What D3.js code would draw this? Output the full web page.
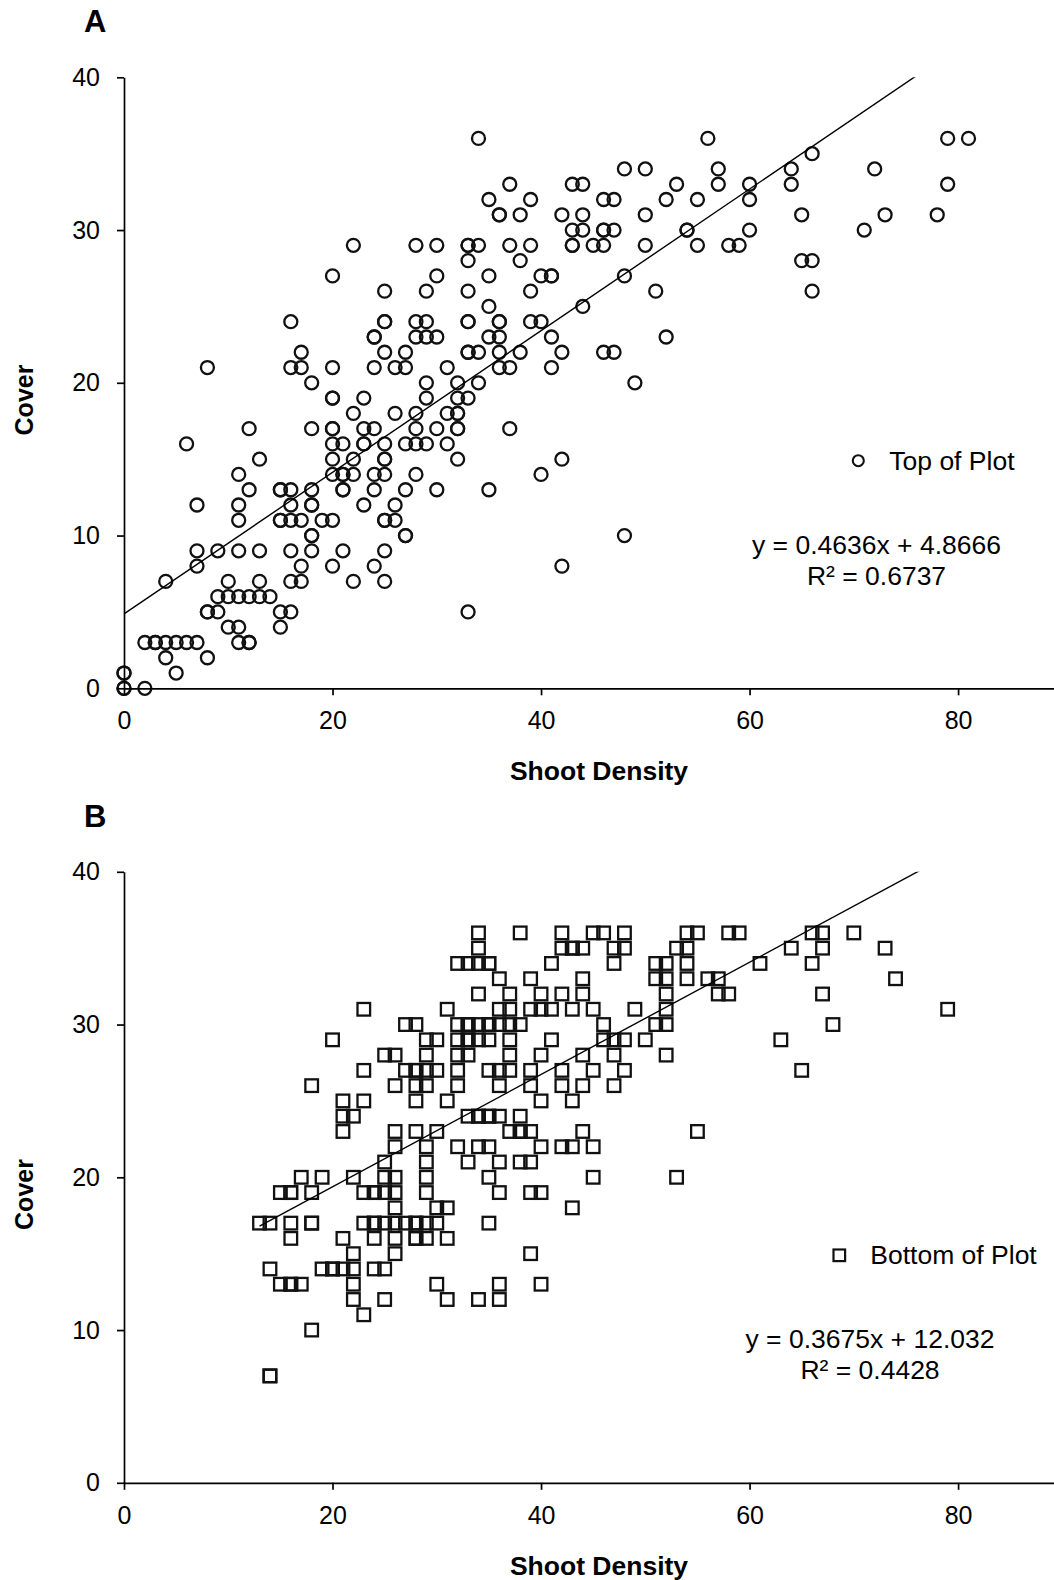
<!DOCTYPE html>
<html><head><meta charset="utf-8">
<script src="https://cdn.jsdelivr.net/npm/d3@7"></script>
<style>
body{margin:0;background:#fff}
text{font-family:"Liberation Sans",Arial,Helvetica,sans-serif;fill:#000}
</style>
</head><body>
<svg id="chart" width="1054" height="1580" xmlns="http://www.w3.org/2000/svg"></svg>
<script>
// ---------- data ----------
const xTicks = [0, 20, 40, 60, 80];
const yTicks = [0, 10, 20, 30, 40];
const panelLetters = ["A", "B"];
const seriesNames = ["Top of Plot", "Bottom of Plot"];
const xTitle = "Shoot Density";
const yTitle = "Cover";
const fitSlope = [0.4636, 0.3675];
const fitIntercept = [4.8666, 12.032];
const fitR2 = ["0.6737", "0.4428"];

// Panel A: Top of Plot (shoot density, cover)
const topX = [
  34,56,79,81,
  66,
  48,50,57,64,72,
  37,43,44,53,57,60,64,79,
  35,39,46,47,52,55,60,
  36,36,38,42,44,50,65,73,78,
  43,44,46,46,47,54,54,60,71,
  22,28,30,33,33,34,37,39,43,43,45,46,50,55,58,59,
  33,38,65,66,
  20,30,35,40,41,41,48,
  25,29,33,39,51,66,
  35,44,
  16,25,25,28,29,33,33,36,36,39,40,
  24,24,28,29,30,35,36,41,52,
  17,25,27,33,33,34,36,38,42,46,47,
  8,16,17,20,24,26,27,31,36,37,41,
  18,29,32,34,49,
  20,20,23,29,32,33,
  22,26,28,31,32,32,
  12,18,20,20,23,24,28,30,32,32,37,
  6,20,21,23,23,25,27,28,29,31,
  13,20,22,25,25,32,42,
  11,20,21,21,22,24,25,28,40,
  12,15,15,16,18,21,21,24,27,30,35,
  7,11,16,18,18,23,26,
  11,15,15,16,17,19,20,25,25,26,
  18,18,27,27,48,
  7,9,11,13,16,18,21,25,
  7,17,20,24,42,
  4,10,13,16,17,22,25,
  9,10,11,12,13,14,
  8,8,9,15,16,33,
  10,11,15,
  2,3,3,4,5,6,7,11,12,12,
  4,8,
  0,0,5,
  0,0,2
];
const topY = [
  36,36,36,36,
  35,
  34,34,34,34,34,
  33,33,33,33,33,33,33,33,
  32,32,32,32,32,32,32,
  31,31,31,31,31,31,31,31,31,
  30,30,30,30,30,30,30,30,30,
  29,29,29,29,29,29,29,29,29,29,29,29,29,29,29,29,
  28,28,28,28,
  27,27,27,27,27,27,27,
  26,26,26,26,26,26,
  25,25,
  24,24,24,24,24,24,24,24,24,24,24,
  23,23,23,23,23,23,23,23,23,
  22,22,22,22,22,22,22,22,22,22,22,
  21,21,21,21,21,21,21,21,21,21,21,
  20,20,20,20,20,
  19,19,19,19,19,19,
  18,18,18,18,18,18,
  17,17,17,17,17,17,17,17,17,17,17,
  16,16,16,16,16,16,16,16,16,16,
  15,15,15,15,15,15,15,
  14,14,14,14,14,14,14,14,14,
  13,13,13,13,13,13,13,13,13,13,13,
  12,12,12,12,12,12,12,
  11,11,11,11,11,11,11,11,11,11,
  10,10,10,10,10,
  9,9,9,9,9,9,9,9,
  8,8,8,8,8,
  7,7,7,7,7,7,7,
  6,6,6,6,6,6,
  5,5,5,5,5,5,
  4,4,4,
  3,3,3,3,3,3,3,3,3,3,
  2,2,
  1,1,1,
  0,0,0
];

// Panel B: Bottom of Plot (shoot density, cover)
const bottomX = [
  34,38,42,45,46,48,54,55,58,59,66,67,70,
  34,42,43,43,44,47,48,53,54,64,67,73,
  32,33,34,35,35,41,47,51,52,54,61,66,
  36,39,44,51,52,54,56,57,74,
  34,37,40,42,44,52,57,58,67,
  23,31,36,37,39,40,41,43,45,49,52,79,
  27,28,32,33,33,34,35,35,36,37,38,46,51,52,68,
  20,29,30,32,33,33,34,35,37,41,46,47,48,50,63,
  25,26,29,32,33,37,40,44,47,52,
  23,27,28,28,29,30,32,35,36,37,39,42,45,48,65,
  18,26,28,29,32,36,39,42,44,47,
  21,23,28,31,40,43,
  21,22,33,34,34,35,35,36,38,
  21,26,28,30,37,38,38,39,44,55,
  26,29,32,34,35,40,42,43,45,
  25,29,33,36,38,39,
  17,19,22,25,26,29,35,45,53,
  15,16,16,18,23,24,24,25,26,29,36,39,40,
  26,30,31,43,
  13,14,16,18,18,23,24,24,25,26,27,28,28,29,30,35,
  16,21,24,26,28,28,29,31,
  22,26,39,
  14,19,20,20,21,22,24,25,
  15,16,16,17,22,30,36,40,
  22,25,31,34,36,
  23,
  18,
  14,14
];
const bottomY = [
  36,36,36,36,36,36,36,36,36,36,36,36,36,
  35,35,35,35,35,35,35,35,35,35,35,35,
  34,34,34,34,34,34,34,34,34,34,34,34,
  33,33,33,33,33,33,33,33,33,
  32,32,32,32,32,32,32,32,32,
  31,31,31,31,31,31,31,31,31,31,31,31,
  30,30,30,30,30,30,30,30,30,30,30,30,30,30,30,
  29,29,29,29,29,29,29,29,29,29,29,29,29,29,29,
  28,28,28,28,28,28,28,28,28,28,
  27,27,27,27,27,27,27,27,27,27,27,27,27,27,27,
  26,26,26,26,26,26,26,26,26,26,
  25,25,25,25,25,25,
  24,24,24,24,24,24,24,24,24,
  23,23,23,23,23,23,23,23,23,23,
  22,22,22,22,22,22,22,22,22,
  21,21,21,21,21,21,
  20,20,20,20,20,20,20,20,20,
  19,19,19,19,19,19,19,19,19,19,19,19,19,
  18,18,18,18,
  17,17,17,17,17,17,17,17,17,17,17,17,17,17,17,17,
  16,16,16,16,16,16,16,16,
  15,15,15,
  14,14,14,14,14,14,14,14,
  13,13,13,13,13,13,13,13,
  12,12,12,12,12,
  11,
  10,
  7,7
];

// ---------- drawing ----------
const svg = d3.select("#chart");
const W = 1054;
const panelShift = 794.5;
const plotLeft = 124, plotTop = 77.3, plotBottom = 688.3;

const seriesX = [topX, bottomX];
const seriesY = [topY, bottomY];

function drawPanel(i) {
  const off = i * panelShift;
  const g = svg.append("g");
  const x = d3.scaleLinear().domain([0, 89.2]).range([plotLeft, W]);
  const y = d3.scaleLinear().domain([0, 40]).range([plotBottom + off, plotTop + off]);

  const pts = seriesX[i].map((v, k) => ({x: v, y: seriesY[i][k]}));

  // clip for trend line
  const clipId = "clip" + i;
  svg.append("clipPath").attr("id", clipId).append("rect")
    .attr("x", x(0)).attr("y", y(40))
    .attr("width", x(89.2) - x(0)).attr("height", y(0) - y(40));

  // markers
  const mk = g.append("g").attr("fill", "none").attr("stroke", "#111").attr("stroke-width", 2.3);
  if (i === 0) {
    mk.selectAll("circle").data(pts).join("circle")
      .attr("cx", d => x(d.x)).attr("cy", d => y(d.y)).attr("r", 6.5);
  } else {
    const s = 12.6;
    mk.selectAll("rect").data(pts).join("rect")
      .attr("x", d => x(d.x) - s / 2).attr("y", d => y(d.y) - s / 2)
      .attr("width", s).attr("height", s);
  }

  // trend line
  const xmin = d3.min(seriesX[i]), xmax = d3.max(seriesX[i]);
  const f = v => fitSlope[i] * v + fitIntercept[i];
  g.append("line")
    .attr("clip-path", `url(#${clipId})`)
    .attr("x1", x(xmin)).attr("y1", y(f(xmin)))
    .attr("x2", x(xmax)).attr("y2", y(f(xmax)))
    .attr("stroke", "#000").attr("stroke-width", 1.4);

  // axes
  const xa = g.append("g").attr("transform", `translate(0,${y(0)})`)
    .call(d3.axisBottom(x).tickValues(xTicks).tickSize(7).tickSizeOuter(0).tickPadding(16));
  const ya = g.append("g").attr("transform", `translate(${x(0)},0)`)
    .call(d3.axisLeft(y).tickValues(yTicks).tickSize(7).tickSizeOuter(0).tickPadding(17));
  [xa, ya].forEach(a => {
    a.attr("font-size", null).attr("font-family", null);
    a.select(".domain").attr("stroke", "#000").attr("stroke-width", 1.7);
    a.selectAll(".tick line").attr("stroke", "#000").attr("stroke-width", 1.7);
    a.selectAll(".tick text").style("font-size", "25px").attr("fill", "#000");
  });

  // panel letter
  g.append("text").attr("x", 84).attr("y", 32 + off)
    .style("font-size", "31px").style("font-weight", "bold").text(panelLetters[i]);

  // axis titles
  g.append("text").attr("x", 599).attr("y", 780 + off).attr("text-anchor", "middle")
    .style("font-size", "26.5px").style("font-weight", "bold").text(xTitle);
  g.append("text").attr("transform", `translate(33,${400 + off}) rotate(-90)`)
    .attr("text-anchor", "middle")
    .style("font-size", "25px").style("font-weight", "bold").text(yTitle);

  // legend
  const lx = i === 0 ? 858.3 : 839.3;
  const ly = i === 0 ? 460.7 : 1255.3;
  if (i === 0) {
    g.append("circle").attr("cx", lx).attr("cy", ly).attr("r", 5.5)
      .attr("fill", "none").attr("stroke", "#111").attr("stroke-width", 2.1);
  } else {
    g.append("rect").attr("x", lx - 5.8).attr("y", ly - 5.8).attr("width", 11.6).attr("height", 11.6)
      .attr("fill", "none").attr("stroke", "#111").attr("stroke-width", 2.2);
  }
  g.append("text").attr("x", lx + 31).attr("y", ly + 9)
    .style("font-size", "26.5px").text(seriesNames[i]);

  // equation
  const ex = i === 0 ? 876.5 : 870;
  const ey = i === 0 ? 554 : 1348.3;
  g.append("text").attr("x", ex).attr("y", ey).attr("text-anchor", "middle")
    .style("font-size", "26.5px")
    .text(`y = ${fitSlope[i]}x + ${fitIntercept[i]}`);
  g.append("text").attr("x", ex).attr("y", ey + 30.5).attr("text-anchor", "middle")
    .style("font-size", "26.5px")
    .text(`R² = ${fitR2[i]}`);
}

drawPanel(0);
drawPanel(1);
</script>
</body></html>
